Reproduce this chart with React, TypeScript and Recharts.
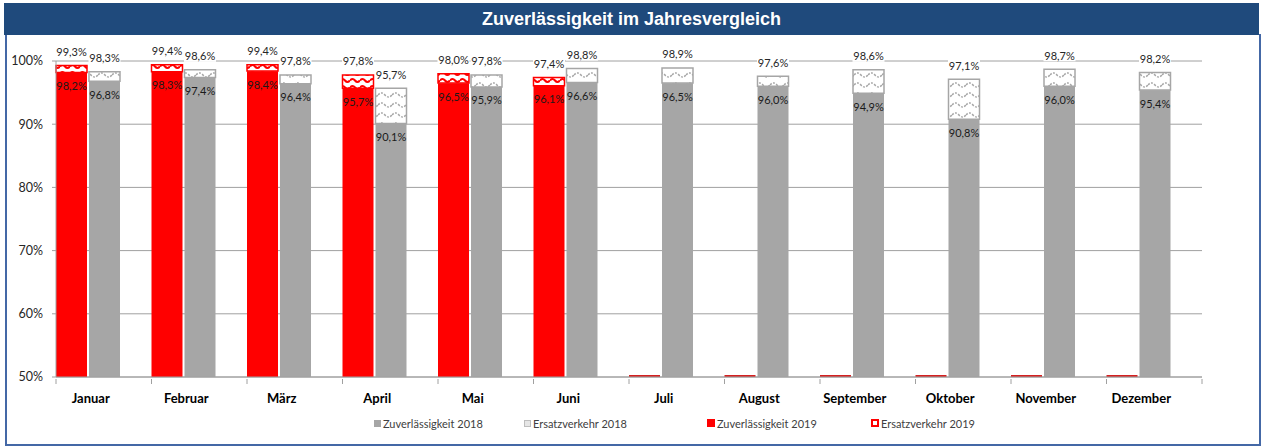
import { BarChart, Bar, XAxis, YAxis, CartesianGrid, LabelList } from 'recharts'

const months = ['Januar', 'Februar', 'März', 'April', 'Mai', 'Juni', 'Juli', 'August', 'September', 'Oktober', 'November', 'Dezember']
// 2019: Zuverlässigkeit ohne / mit Ersatzverkehr (ab Juli noch keine Werte)
const zuv2019 = [98.2, 98.3, 98.4, 95.7, 96.5, 96.1, 0, 0, 0, 0, 0, 0]
const total2019 = [99.3, 99.4, 99.4, 97.8, 98.0, 97.4, 0, 0, 0, 0, 0, 0]
// 2018
const zuv2018 = [96.8, 97.4, 96.4, 90.1, 95.9, 96.6, 96.5, 96.0, 94.9, 90.8, 96.0, 95.4]
const total2018 = [98.3, 98.6, 97.8, 95.7, 97.8, 98.8, 98.9, 97.6, 98.6, 97.1, 98.7, 98.2]
const yTicks = [50, 60, 70, 80, 90, 100]

const data = months.map((m, i) => ({
  month: m,
  z19: zuv2019[i],
  e19: total2019[i] ? +(total2019[i] - zuv2019[i]).toFixed(1) : 0,
  t19: total2019[i],
  z18: zuv2018[i],
  e18: +(total2018[i] - zuv2018[i]).toFixed(1),
  t18: total2018[i],
  pad: 0,
}))

const W = 1261
const H = 446
const LEFT = 56
const RIGHT = 59
const TOP = 61
const XAXIS_H = 69
const PLOT_BOTTOM = H - XAXIS_H
const BAND = (W - LEFT - RIGHT) / months.length
const FONT = 'Lato, "Open Sans", sans-serif'
const RED = '#FF0000'
const GRAY = '#A6A6A6'

const fmt = (v: number) => v.toFixed(1).replace('.', ',') + '%'

function MonthTick({ x, y, payload, index }: any) {
  return (
    <g>
      <line x1={x - BAND / 2} x2={x - BAND / 2} y1={y} y2={y + 5} stroke="#A0A0A0" />
      {index === months.length - 1 && <line x1={x + BAND / 2} x2={x + BAND / 2} y1={y} y2={y + 5} stroke="#A0A0A0" />}
      <text x={x - 13} y={y + 19} textAnchor="middle" dominantBaseline="central"
        style={{ fontFamily: FONT, fontSize: 13, fontWeight: 700, fill: '#000' }}>
        {payload.value}
      </text>
    </g>
  )
}

function RedBase(props: any) {
  const { x, y, width, height, payload } = props
  if (!payload.z19) return <rect x={x} y={PLOT_BOTTOM - 2} width={width} height={2} fill="#D42020" />
  return <rect x={x} y={y} width={width} height={height} fill={RED} />
}

function TopLabel({ x, y, width, value }: any) {
  if (!value) return null
  const cx = x + width / 2
  const cy = y - 14
  return (
    <g>
      <rect x={cx - 16} y={cy - 6} width={32} height={12} fill="#fff" />
      <text x={cx} y={cy} textAnchor="middle" dominantBaseline="central"
        style={{ fontFamily: FONT, fontSize: 11, fill: '#262626' }}>{fmt(value)}</text>
    </g>
  )
}

function BaseLabel({ x, y, width, value }: any) {
  if (!value) return null
  return (
    <text x={x + width / 2} y={y + 13} textAnchor="middle" dominantBaseline="central"
      style={{ fontFamily: FONT, fontSize: 11, fill: '#1a1a1a' }}>{fmt(value)}</text>
  )
}

const legendText = { fontFamily: FONT, fontSize: 11, color: '#404040', position: 'absolute' as const, top: 417, whiteSpace: 'nowrap' as const }

export default function App() {
  return (
    <div style={{ position: 'absolute', left: 0, top: 0, width: W, height: H, background: '#fff' }}>
      <div style={{ position: 'absolute', left: 5, top: 34, width: 1252, height: 410, borderLeft: '2px solid #4468A6', borderRight: '2px solid #4468A6', borderBottom: '2px solid #4468A6' }} />
      <div style={{
        position: 'absolute', left: 4, top: 3, width: 1255, height: 32, background: '#1F4A7C', color: '#fff',
        fontFamily: '"Liberation Sans Narrow", "Liberation Sans", Arial, sans-serif', fontWeight: 700, fontSize: 18,
        lineHeight: '32px', textAlign: 'center',
      }}>
        Zuverlässigkeit im Jahresvergleich
      </div>

      <div style={{ position: 'absolute', left: 0, top: 0 }}>
        <BarChart width={W} height={H} data={data} margin={{ top: TOP, right: RIGHT, bottom: 0, left: 0 }}
          barCategoryGap={0} barGap={2}>
          <defs>
            <pattern id="redWave" patternUnits="userSpaceOnUse" width={10} height={7}>
              <rect width={10} height={7} fill="#fff" />
              <path d="M0 3.5 Q2.5 0.5 5 3.5 T10 3.5" fill="none" stroke={RED} strokeWidth={2} />
            </pattern>
            <pattern id="grayWave" patternUnits="userSpaceOnUse" width={14} height={10}>
              <rect width={14} height={10} fill="#fff" />
              <path d="M0 5 Q3.5 1 7 5 T14 5" fill="none" stroke={GRAY} strokeWidth={1.5} strokeDasharray="2 1.5" />
            </pattern>
          </defs>
          <CartesianGrid vertical={false} stroke="#A0A0A0" />
          <XAxis dataKey="month" interval={0} tickLine={false} tickSize={0} height={XAXIS_H}
            axisLine={{ stroke: '#A0A0A0' }} tick={<MonthTick />} />
          <YAxis domain={[50, 100]} ticks={yTicks} allowDataOverflow width={LEFT} tickSize={4} tickMargin={9}
            axisLine={{ stroke: '#A0A0A0' }} tickLine={{ stroke: '#A0A0A0' }}
            tickFormatter={(v: number) => v + '%'}
            tick={{ fontFamily: FONT, fontSize: 12.5, fill: '#262626' }} />

          <Bar dataKey="z19" stackId="a" fill={RED} shape={<RedBase />} isAnimationActive={false}>
            <LabelList dataKey="z19" content={<BaseLabel />} />
          </Bar>
          <Bar dataKey="e19" stackId="a" fill="url(#redWave)" stroke={RED} strokeWidth={1.5} isAnimationActive={false}>
            <LabelList dataKey="t19" content={<TopLabel />} />
          </Bar>

          <Bar dataKey="z18" stackId="b" fill={GRAY} isAnimationActive={false}>
            <LabelList dataKey="z18" content={<BaseLabel />} />
          </Bar>
          <Bar dataKey="e18" stackId="b" fill="url(#grayWave)" stroke={GRAY} strokeWidth={1.5} isAnimationActive={false}>
            <LabelList dataKey="t18" content={<TopLabel />} />
          </Bar>

          <Bar dataKey="pad" fill="none" isAnimationActive={false} />
        </BarChart>
      </div>

      <div style={{ position: 'absolute', left: 374, top: 420, width: 7, height: 7, background: GRAY }} />
      <div style={{ ...legendText, left: 383 }}>Zuverlässigkeit 2018</div>
      <div style={{ position: 'absolute', left: 524, top: 420, width: 5, height: 5, background: '#E6E6E6', border: '1px solid #BDBDBD' }} />
      <div style={{ ...legendText, left: 533 }}>Ersatzverkehr 2018</div>
      <div style={{ position: 'absolute', left: 707, top: 419, width: 8, height: 8, background: RED }} />
      <div style={{ ...legendText, left: 717 }}>Zuverlässigkeit 2019</div>
      <div style={{ position: 'absolute', left: 871, top: 419, width: 4, height: 4, background: '#fff', border: `2px solid ${RED}` }} />
      <div style={{ ...legendText, left: 881 }}>Ersatzverkehr 2019</div>
    </div>
  )
}
